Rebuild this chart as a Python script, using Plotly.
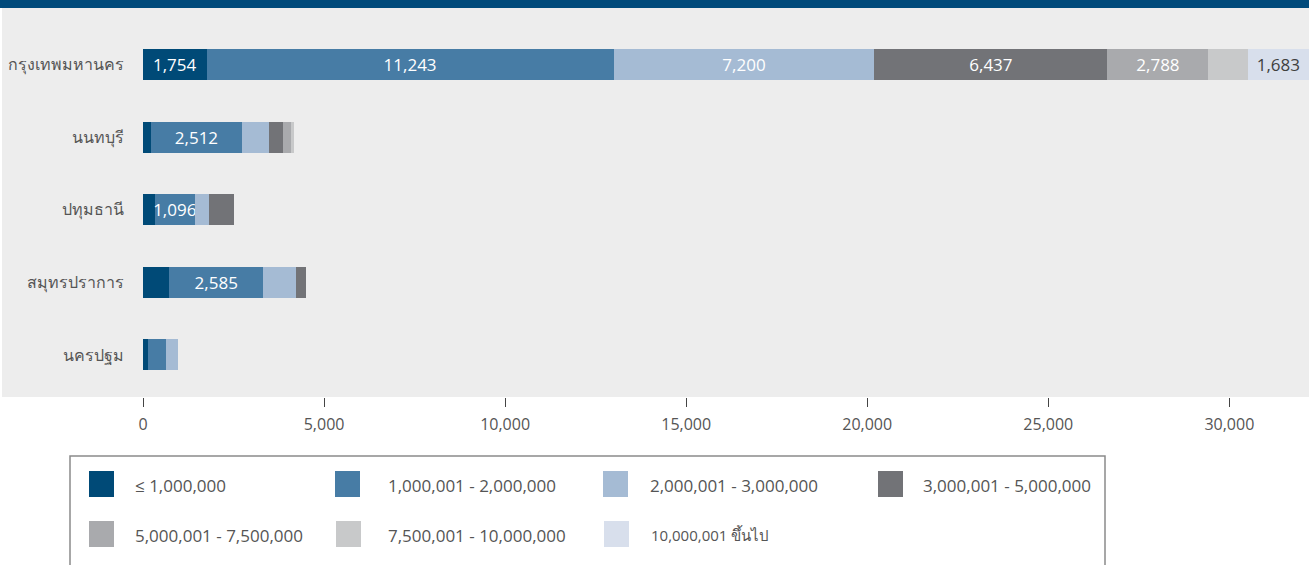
import plotly.graph_objects as go

# Provinces (top to bottom) and price bands (stack order, left to right)
provinces = ["กรุงเทพมหานคร", "นนทบุรี", "ปทุมธานี", "สมุทรปราการ", "นครปฐม"]
bands = [
    "≤ 1,000,000",
    "1,000,001 - 2,000,000",
    "2,000,001 - 3,000,000",
    "3,000,001 - 5,000,000",
    "5,000,001 - 7,500,000",
    "7,500,001 - 10,000,000",
    "10,000,001 ขึ้นไป",
]

# Units per province for each price band
band_le_1m = [1754, 220, 330, 730, 140]
band_1m_2m = [11243, 2512, 1096, 2585, 490]
band_2m_3m = [7200, 760, 410, 920, 350]
band_3m_5m = [6437, 380, 680, 270, 0]
band_5m_75m = [2788, 220, 0, 0, 0]
band_75m_10m = [1090, 80, 0, 0, 0]
band_over_10m = [1683, 0, 0, 0, 0]

# Which segments carry a value label
labelled_le_1m = [True, False, False, False, False]
labelled_1m_2m = [True, True, True, True, False]
labelled_2m_3m = [True, False, False, False, False]
labelled_3m_5m = [True, False, False, False, False]
labelled_5m_75m = [True, False, False, False, False]
labelled_75m_10m = [False, False, False, False, False]
labelled_over_10m = [True, False, False, False, False]

x_ticks = [0, 5000, 10000, 15000, 20000, 25000, 30000]

series = [band_le_1m, band_1m_2m, band_2m_3m, band_3m_5m,
          band_5m_75m, band_75m_10m, band_over_10m]
labelled = [labelled_le_1m, labelled_1m_2m, labelled_2m_3m, labelled_3m_5m,
            labelled_5m_75m, labelled_75m_10m, labelled_over_10m]
colors = ["#004a77", "#477ca5", "#a5bbd4", "#727377",
          "#a9aaad", "#c8c9ca", "#d8dfec"]
text_colors = ["white"] * 6 + ["#3f3f3f"]

W, H = 1309, 565
L, R, T, B = 143, 0, 8, 168
PW, PH = W - L - R, H - T - B


def px2x(px):
    return (px - L) / PW


def py2y(py):
    return (H - B - py) / PH


FONT = "Open Sans, Noto Sans, DejaVu Sans, sans-serif"

fig = go.Figure()
for name, vals, flags, col, tcol in zip(bands, series, labelled, colors, text_colors):
    fig.add_trace(go.Bar(
        name=name,
        y=provinces,
        x=vals,
        orientation="h",
        marker=dict(color=col, line=dict(width=0)),
        text=[f"{v:,}" if f else "" for v, f in zip(vals, flags)],
        textposition="inside",
        insidetextanchor="middle",
        textangle=0,
        constraintext="none",
        textfont=dict(family=FONT, size=17, color=tcol),
        hoverinfo="skip",
    ))

shapes = [
    # grey panel behind bars and province names
    dict(type="rect", xref="paper", yref="paper", x0=px2x(2), x1=px2x(W),
         y0=py2y(397), y1=py2y(8), fillcolor="#ededed", line=dict(width=0),
         layer="below"),
    # dark header band
    dict(type="rect", xref="paper", yref="paper", x0=px2x(0), x1=px2x(W),
         y0=py2y(8), y1=py2y(0), fillcolor="#004a7b", line=dict(width=0),
         layer="below"),
    # legend frame
    dict(type="rect", xref="paper", yref="paper", x0=px2x(70), x1=px2x(1105),
         y0=py2y(575), y1=py2y(456), fillcolor="rgba(0,0,0,0)",
         line=dict(color="#8a8a8a", width=1.5)),
]

annotations = []
legend_pos = [  # (swatch left, text left, row centre)
    (89, 133, 484), (335, 386, 484), (603, 648, 484), (878, 921, 484),
    (89, 133, 534), (336, 386, 534), (604, 649, 534),
]
for i, (name, col) in enumerate(zip(bands, colors)):
    sx, tx, cy = legend_pos[i]
    shapes.append(dict(type="rect", xref="paper", yref="paper",
                       x0=px2x(sx), x1=px2x(sx + 25),
                       y0=py2y(cy + 13), y1=py2y(cy - 13),
                       fillcolor=col, line=dict(width=0)))
    annotations.append(dict(xref="paper", yref="paper", x=px2x(tx), y=py2y(cy + 1),
                            text=name, showarrow=False, xanchor="left",
                            yanchor="middle",
                            font=dict(family=FONT, size=15 if i == 6 else 17,
                                      color="#555555")))

fig.update_layout(
    width=W, height=H,
    margin=dict(l=L, r=R, t=T, b=B),
    barmode="stack",
    bargap=0.573,
    showlegend=False,
    paper_bgcolor="white",
    plot_bgcolor="rgba(0,0,0,0)",
    font=dict(family=FONT, color="#555555"),
    shapes=shapes,
    annotations=annotations,
    xaxis=dict(
        range=[0, 32200], tickvals=x_ticks, tickformat=",",
        ticks="outside", ticklen=9, tickwidth=1, tickcolor="#444444",
        showgrid=False, zeroline=False, showline=False,
        tickfont=dict(family=FONT, size=16, color="#555555"),
        ticklabelstandoff=4, fixedrange=True,
    ),
    yaxis=dict(
        type="category", categoryorder="array", categoryarray=provinces,
        range=[4.58, -0.78], autorange=False,
        showgrid=False, zeroline=False, showline=False, ticks="",
        tickfont=dict(family=FONT, size=16, color="#555555"),
        ticklabelstandoff=18, fixedrange=True,
    ),
)

fig.write_html("out.html")
